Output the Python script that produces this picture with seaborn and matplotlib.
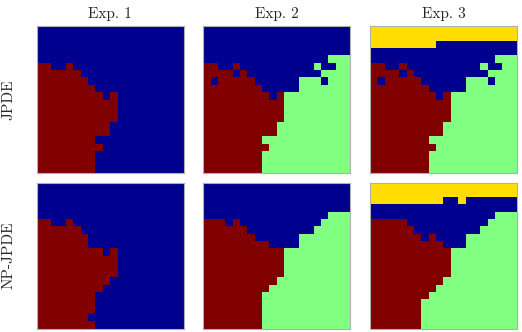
import numpy as np
import matplotlib
matplotlib.use('Agg')
import matplotlib.pyplot as plt
from matplotlib.colors import ListedColormap
import seaborn as sns

# class maps, one string per grid row: B=blue, R=red, G=green, Y=yellow
jpde_exp1 = ['B' * 20] * 5 + [
    'RRBBR' + 'B' * 15,
    'R' * 6 + 'B' * 14,
    'R' * 7 + 'B' * 13,
    'R' * 8 + 'B' * 12,
    'R' * 9 + 'BR' + 'B' * 9,
    'R' * 11 + 'B' * 9,
    'R' * 11 + 'B' * 9,
    'R' * 11 + 'B' * 9,
    'R' * 10 + 'B' * 10,
    'R' * 10 + 'B' * 10,
    'R' * 8 + 'B' * 12,
    'R' * 9 + 'B' * 11,
    'R' * 8 + 'B' * 12,
    'R' * 8 + 'B' * 12,
    'R' * 8 + 'B' * 12,
]

jpde_exp2 = ['B' * 20] * 4 + [
    'B' * 17 + 'GGG',
    'RRBBR' + 'B' * 10 + 'GBBGG',
    'RRRRBR' + 'B' * 10 + 'GGGG',
    'RBRRRRR' + 'B' * 6 + 'GGGBGGG',
    'R' * 8 + 'B' * 5 + 'G' * 7,
    'R' * 9 + 'BR' + 'G' * 9,
    'R' * 11 + 'G' * 9,
    'R' * 11 + 'G' * 9,
    'R' * 11 + 'G' * 9,
    'R' * 10 + 'G' * 10,
    'R' * 10 + 'G' * 10,
    'R' * 8 + 'G' * 12,
    'R' * 9 + 'G' * 11,
    'R' * 8 + 'G' * 12,
    'R' * 8 + 'G' * 12,
    'R' * 8 + 'G' * 12,
]

jpde_exp3 = ['Y' * 20, 'Y' * 20, 'Y' * 9 + 'B' * 11] + jpde_exp2[3:]

npjpde_exp1 = ['B' * 20] * 5 + [
    'RRBBR' + 'B' * 15,
    'R' * 6 + 'B' * 14,
    'R' * 7 + 'B' * 13,
    'R' * 7 + 'B' * 13,
    'R' * 9 + 'BR' + 'B' * 9,
    'R' * 11 + 'B' * 9,
    'R' * 11 + 'B' * 9,
    'R' * 11 + 'B' * 9,
    'R' * 10 + 'B' * 10,
    'R' * 9 + 'B' * 11,
    'R' * 8 + 'B' * 12,
    'R' * 8 + 'B' * 12,
    'R' * 8 + 'B' * 12,
    'R' * 7 + 'B' * 13,
    'R' * 8 + 'B' * 12,
]

npjpde_exp2 = ['B' * 20] * 4 + [
    'B' * 17 + 'G' * 3,
    'RRRBR' + 'B' * 11 + 'G' * 4,
    'R' * 6 + 'B' * 9 + 'G' * 5,
    'R' * 7 + 'B' * 6 + 'G' * 7,
    'R' * 9 + 'B' * 4 + 'G' * 7,
    'R' * 11 + 'G' * 9,
    'R' * 11 + 'G' * 9,
    'R' * 11 + 'G' * 9,
    'R' * 11 + 'G' * 9,
    'R' * 10 + 'G' * 10,
    'R' * 9 + 'G' * 11,
    'R' * 8 + 'G' * 12,
    'R' * 8 + 'G' * 12,
    'R' * 8 + 'G' * 12,
    'R' * 8 + 'G' * 12,
    'R' * 8 + 'G' * 12,
]

npjpde_exp3 = ['Y' * 20, 'Y' * 20, 'Y' * 10 + 'BBY' + 'B' * 7, 'B' * 20] + [
    'B' * 17 + 'G' * 3,
    'R' * 5 + 'B' * 11 + 'G' * 4,
    'R' * 6 + 'B' * 9 + 'G' * 5,
    'R' * 7 + 'BR' + 'B' * 4 + 'G' * 7,
    'R' * 10 + 'B' * 3 + 'G' * 7,
    'R' * 11 + 'G' * 9,
    'R' * 11 + 'G' * 9,
    'R' * 11 + 'G' * 9,
    'R' * 11 + 'G' * 9,
    'R' * 10 + 'G' * 10,
    'R' * 9 + 'G' * 11,
    'R' * 8 + 'G' * 12,
    'R' * 7 + 'G' * 13,
    'R' * 7 + 'G' * 13,
    'R' * 7 + 'G' * 13,
    'R' * 7 + 'G' * 13,
]

methods = ['JPDE', 'NP-JPDE']
experiments = ['Exp. 1', 'Exp. 2', 'Exp. 3']
grids = [[jpde_exp1, jpde_exp2, jpde_exp3],
         [npjpde_exp1, npjpde_exp2, npjpde_exp3]]

class_codes = {'B': 0, 'R': 1, 'G': 2, 'Y': 3}
cmap = ListedColormap(['#00008f', '#800000', '#80ff80', '#ffdd00'])


def to_array(rows):
    return np.array([[class_codes[c] for c in row] for row in rows])


sns.set_style('white')
plt.rcParams['font.family'] = ['cmr10', 'DejaVu Serif']
plt.rcParams['axes.unicode_minus'] = False

fig = plt.figure(figsize=(5.22, 3.32), dpi=100)

lefts = [0.0703, 0.3895, 0.7088]
bottoms = [0.4789, 0.0105]
w = 0.2816
heights = [0.4428, 0.4398]

for i, method in enumerate(methods):
    for j, exp in enumerate(experiments):
        ax = fig.add_axes([lefts[j], bottoms[i], w, heights[i]])
        sns.heatmap(to_array(grids[i][j]), ax=ax, cmap=cmap, vmin=-0.5, vmax=3.5,
                    cbar=False, xticklabels=False, yticklabels=False)
        ax.set_xticks([5.5, 10.5, 15.5])
        ax.set_yticks([5.5, 10.5, 15.5])
        ax.set_xticklabels([])
        ax.set_yticklabels([])
        ax.tick_params(direction='in', length=2.5, width=0.6, color='#333333',
                       top=True, right=True, bottom=True, left=True)
        for s in ax.spines.values():
            s.set_visible(True)
            s.set_color('#b0b0b0')
            s.set_linewidth(0.8)
        if i == 0:
            ax.set_title(exp, fontsize=11, pad=6)
        if j == 0:
            ax.set_ylabel(method, fontsize=11, labelpad=12)

fig.savefig('out.png', dpi=100)
